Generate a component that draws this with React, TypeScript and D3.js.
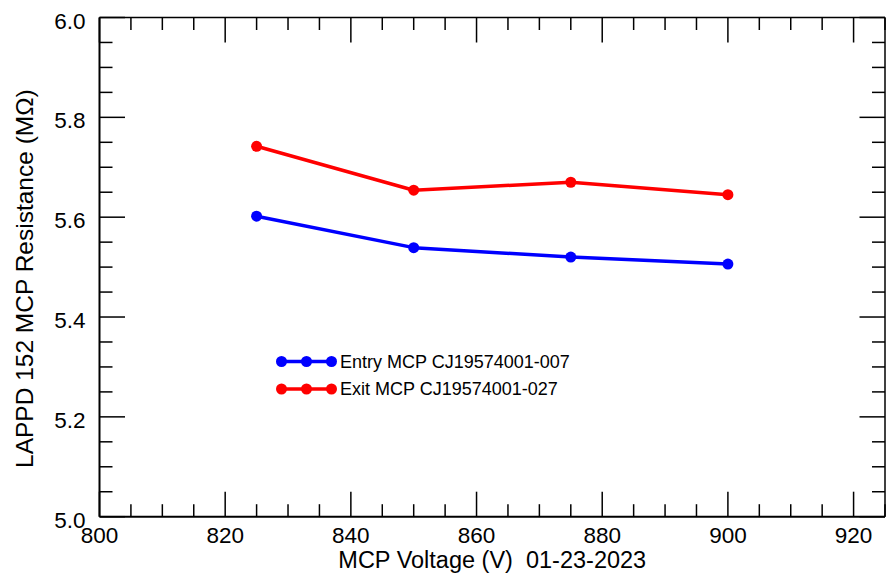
import React from "react";
import * as d3 from "d3";

const voltages = [825, 850, 875, 900];
const entryValues = [5.602, 5.539, 5.52, 5.506];
const exitValues = [5.742, 5.654, 5.67, 5.645];
const seriesNames = ["Entry MCP CJ19574001-007", "Exit MCP CJ19574001-027"];
const seriesColors = ["#0000ff", "#ff0000"];
const xTickLabels = [800, 820, 840, 860, 880, 900, 920];
const yTickLabels = [5.0, 5.2, 5.4, 5.6, 5.8, 6.0];

const W = 886, H = 578;
const L = 99.5, R = 885, T = 17.5, B = 516.7;
const FONT = "'Liberation Sans', Arial, Helvetica, sans-serif";

export default function App() {
  const x = d3.scaleLinear().domain([800, 925]).range([L, R]);
  const y = d3.scaleLinear().domain([5.0, 6.0]).range([B, T]);
  const xMinor = d3.range(800, 925.1, 5);
  const yMinor = d3.range(0, 21).map((i) => 5.0 + i * 0.05);
  const isMajorX = (v: number) => Math.abs(v % 20) < 1e-6;
  const isMajorY = (v: number) => Math.abs(Math.round(v * 100) % 20) < 1e-6;
  const line = d3.line<number>().x((_, i) => x(voltages[i])).y((d) => y(d));
  const series = [entryValues, exitValues];
  const legendY = [361.5, 389];
  const legendX = [281.5, 306.5, 331.5];

  return (
    <svg width={W} height={H} style={{ position: "absolute", left: 0, top: 0 }}>
      <rect width={W} height={H} fill="#fff" />
      <line x1={L} x2={R} y1={B} y2={B} stroke="#000" strokeWidth={2} />
      <line x1={L} x2={R} y1={T} y2={T} stroke="#000" strokeWidth={1.5} />
      <line x1={L} x2={L} y1={T} y2={B} stroke="#000" strokeWidth={2} />
      <line x1={R} x2={R} y1={T} y2={B} stroke="#000" strokeWidth={1.5} />
      {xMinor.map((v) => {
        const len = isMajorX(v) ? 25 : 12.5;
        return (
          <g key={"x" + v}>
            <line x1={x(v)} x2={x(v)} y1={B} y2={B - len} stroke="#000" strokeWidth={1.5} />
            <line x1={x(v)} x2={x(v)} y1={T} y2={T + len} stroke="#000" strokeWidth={1.5} />
          </g>
        );
      })}
      {yMinor.map((v) => {
        const len = isMajorY(v) ? 25.5 : 13;
        return (
          <g key={"y" + v}>
            <line x1={L} x2={L + len} y1={y(v)} y2={y(v)} stroke="#000" strokeWidth={1.5} />
            <line x1={R} x2={R - len} y1={y(v)} y2={y(v)} stroke="#000" strokeWidth={1.5} />
          </g>
        );
      })}
      {xTickLabels.map((v) => (
        <text key={"xl" + v} x={x(v)} y={542.5} textAnchor="middle" fontFamily={FONT} fontSize={22.5} fill="#000">
          {v}
        </text>
      ))}
      {yTickLabels.map((v) => (
        <text key={"yl" + v} x={85.5} y={y(v) + 11} textAnchor="end" fontFamily={FONT} fontSize={22.5} fill="#000">
          {v.toFixed(1)}
        </text>
      ))}
      <text
        x={(L + R) / 2}
        y={568}
        textAnchor="middle"
        fontFamily={FONT}
        fontSize={23.5}
        fill="#000"
        style={{ whiteSpace: "pre" }}
      >
        {"MCP Voltage (V)  01-23-2023"}
      </text>
      <text
        transform={`translate(33,468) rotate(-90)`}
        textAnchor="start"
        fontFamily={FONT}
        fontSize={24.5}
        fill="#000"
      >
        LAPPD 152 MCP Resistance (MΩ)
      </text>
      {series.map((vals, si) => (
        <g key={"s" + si}>
          <path d={line(vals) || ""} fill="none" stroke={seriesColors[si]} strokeWidth={3.5} strokeLinejoin="round" />
          {vals.map((v, i) => (
            <circle key={i} cx={x(voltages[i])} cy={y(v)} r={5.5} fill={seriesColors[si]} />
          ))}
        </g>
      ))}
      {seriesNames.map((name, si) => (
        <g key={"lg" + si}>
          <line x1={legendX[0]} x2={legendX[2]} y1={legendY[si]} y2={legendY[si]} stroke={seriesColors[si]} strokeWidth={3.5} />
          {legendX.map((lx) => (
            <circle key={lx} cx={lx} cy={legendY[si]} r={5.5} fill={seriesColors[si]} />
          ))}
          <text x={340} y={legendY[si] + 6} fontFamily={FONT} fontSize={18} fill="#000">
            {name}
          </text>
        </g>
      ))}
    </svg>
  );
}
